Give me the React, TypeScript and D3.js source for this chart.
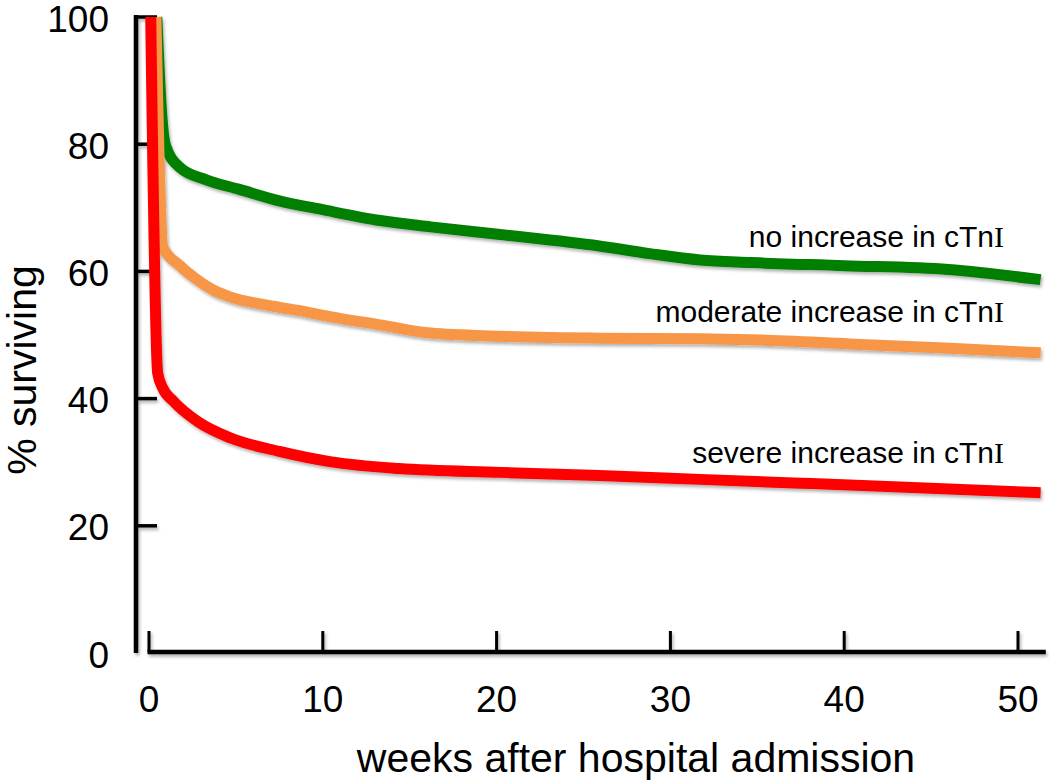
import React from 'react';
import * as d3 from 'd3';

// survival curves (weeks, % surviving)
const noIncreaseWeeks = [0.45, 0.75, 0.95, 1.8, 3.3, 5.2, 7.5, 10, 13.3, 16.2, 20.2, 25.9, 28.8, 31.7, 34.6, 40, 46, 51.3];
const noIncreaseValues = [100, 84, 79.8, 76.3, 74.4, 72.9, 71.1, 69.7, 68, 67, 65.8, 64, 62.8, 61.8, 61.4, 60.9, 60.3, 58.7];

const moderateWeeks = [0.4, 0.8, 1.78, 2.76, 3.68, 4.66, 6.56, 8.5, 10.4, 13.3, 16.2, 20.2, 25.9, 31.7, 35.2, 40.3, 46.1, 51.3];
const moderateValues = [100, 63.8, 60.9, 58.7, 57.1, 56.0, 54.8, 53.9, 52.9, 51.6, 50.3, 49.8, 49.5, 49.4, 49.2, 48.6, 47.9, 47.2];

const severeWeeks = [0.1, 0.5, 0.8, 1.4, 2.8, 4.7, 7.5, 10.4, 14.4, 20.2, 25.9, 31.7, 37.5, 43.2, 51.3];
const severeValues = [100, 44, 41.6, 39.6, 36.4, 33.8, 31.7, 30.1, 29.0, 28.4, 27.9, 27.3, 26.7, 26.1, 25.2];

const xTicks = [0, 10, 20, 30, 40, 50];
const yTicks = [0, 20, 40, 60, 80, 100];

const seriesLabels = ['no increase in cTn', 'moderate increase in cTn', 'severe increase in cTn'];

type Pt = { w: number; v: number };
const zip = (ws: number[], vs: number[]): Pt[] => ws.map((w, i) => ({ w, v: vs[i] }));

const App: React.FC = () => {
  const width = 1050;
  const height = 782;

  const x = d3.scaleLinear().domain([0, 50]).range([149, 1018]);
  const y = d3.scaleLinear().domain([0, 100]).range([653, 17]);

  const line = d3.line<Pt>()
    .x(d => x(d.w))
    .y(d => y(d.v))
    .curve(d3.curveMonotoneX);

  const series = [
    { name: seriesLabels[0], data: zip(noIncreaseWeeks, noIncreaseValues), color: '#007f00', labelY: 247 },
    { name: seriesLabels[1], data: zip(moderateWeeks, moderateValues), color: '#f79646', labelY: 322 },
    { name: seriesLabels[2], data: zip(severeWeeks, severeValues), color: '#ff0000', labelY: 463 },
  ];

  const yAxisX = 136;
  const xAxisY = 652;
  const xEnd = x(51.6);

  return (
    <svg
      width={width}
      height={height}
      style={{ position: 'absolute', left: 0, top: 0, background: '#fff' }}
      fontFamily="'Liberation Sans', Arial, sans-serif"
    >
      <defs>
        <filter id="shadow" x="-5%" y="-5%" width="110%" height="120%">
          <feDropShadow dx="1.5" dy="2.5" stdDeviation="1.5" floodColor="#000" floodOpacity="0.3" />
        </filter>
      </defs>

      {/* axes */}
      <g filter="url(#shadow)" stroke="#000">
        <line x1={yAxisX} x2={yAxisX} y1={y(100) - 2} y2={653} strokeWidth={4.5} />
        {yTicks.filter(t => t > 0).map(t => (
          <line key={t} x1={yAxisX} x2={yAxisX + 21} y1={y(t)} y2={y(t)} strokeWidth={3.5} />
        ))}
        <line x1={x(0) - 1.5} x2={xEnd} y1={xAxisY} y2={xAxisY} strokeWidth={4.5} />
        {xTicks.map(t => (
          <line key={t} x1={x(t)} x2={x(t)} y1={xAxisY} y2={xAxisY - 21} strokeWidth={3} />
        ))}
      </g>

      {/* tick labels */}
      <g fontSize={37} fill="#000">
        {yTicks.map(t => (
          <text key={t} x={109} y={y(t) + 2} textAnchor="end" dominantBaseline="central">{t}</text>
        ))}
        {xTicks.map(t => (
          <text key={t} x={x(t)} y={699} textAnchor="middle" dominantBaseline="central">{t}</text>
        ))}
      </g>

      {/* curves: green first, red on top */}
      <g filter="url(#shadow)" fill="none" strokeWidth={11} strokeLinejoin="round">
        {series.map(s => (
          <path key={s.name} d={line(s.data) || ''} stroke={s.color} />
        ))}
      </g>

      {/* series labels */}
      <g fontSize={30} fill="#000">
        {series.map(s => (
          <text key={s.name} x={1004} y={s.labelY} textAnchor="end">
            {s.name}
            <tspan fontFamily="'Liberation Serif', serif">I</tspan>
          </text>
        ))}
      </g>

      {/* axis titles */}
      <text x={636} y={772} textAnchor="middle" fontSize={41} fill="#000">weeks after hospital admission</text>
      <text transform="translate(36, 370) rotate(-90)" textAnchor="middle" fontSize={41} fill="#000">% surviving</text>
    </svg>
  );
};

export default App;
